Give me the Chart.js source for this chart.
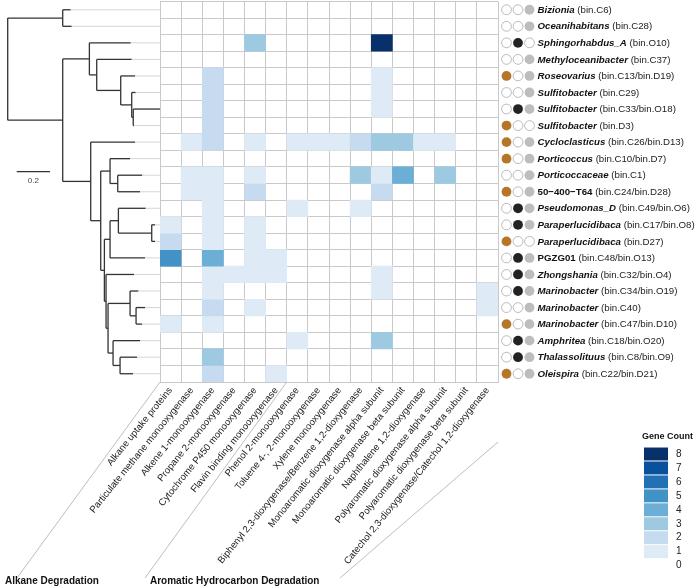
<!DOCTYPE html>
<html><head><meta charset="utf-8">
<script src="https://cdn.jsdelivr.net/npm/chart.js@4.4.1/dist/chart.umd.min.js"></script>
<style>html,body{margin:0;padding:0;background:#fff}#wrap{width:696px;height:588px;position:relative}</style>
</head><body><div id="wrap"><canvas id="c" width="696" height="588"></canvas></div>
<script>
// ---------------- DATA ----------------
const genes = ["Alkane uptake proteins","Particulate methane monooxygenase","Alkene 1-monooxygenase","Propane 2-monooxygenase","Cytochrome P450 monooxygenase","Flavin binding monooxygenase","Phenol 2-monooxygenase","Toluene 4-, 2-monooxygenase","Xylene monooxygenase","Biphenyl 2,3-dioxygenase/Benzene 1,2-dioxygenase","Monoaromatic dioxygenase alpha subunit","Monoaromatic dioxygenase beta subunit","Naphthalene 1,2-dioxygenase","Polyaromatic dioxygenase alpha subunit","Polyaromatic dioxygenase beta subunit","Catechol 2,3-dioxygenase/Catechol 1,2-dioxygenase"];
const geneGroups = ["Alkane Degradation","Aromatic Hydrocarbon Degradation"];
const groupStart = [0, 6];
const taxa = ["Bizionia","Oceanihabitans","Sphingorhabdus_A","Methyloceanibacter","Roseovarius","Sulfitobacter","Sulfitobacter","Sulfitobacter","Cycloclasticus","Porticoccus","Porticoccaceae","50\u2212400\u2212T64","Pseudomonas_D","Paraperlucidibaca","Paraperlucidibaca","PGZG01","Zhongshania","Marinobacter","Marinobacter","Marinobacter","Amphritea","Thalassolituus","Oleispira"];
const bins = ["(bin.C6)","(bin.C28)","(bin.O10)","(bin.C37)","(bin.C13/bin.D19)","(bin.C29)","(bin.C33/bin.O18)","(bin.D3)","(bin.C26/bin.D13)","(bin.C10/bin.D7)","(bin.C1)","(bin.C24/bin.D28)","(bin.C49/bin.O6)","(bin.C17/bin.O8)","(bin.D27)","(bin.C48/bin.O13)","(bin.C32/bin.O4)","(bin.C34/bin.O19)","(bin.C40)","(bin.C47/bin.D10)","(bin.C18/bin.O20)","(bin.C8/bin.O9)","(bin.C22/bin.D21)"];
const italicName = [1,1,1,1,1,1,1,1,1,1,1,0,1,1,1,0,1,1,1,1,1,1,1];
// presence marks: D = brown, O = black, C = grey (lowercase = absent)
const marks = ["doC","doC","dOc","doC","DoC","doC","dOC","Doc","DoC","DoC","doC","DoC","dOC","dOC","Doc","dOC","dOC","dOC","doC","DoC","dOC","dOC","DoC"];
const counts = [
 [0,0,0,0,0,0,0,0,0,0,0,0,0,0,0,0],
 [0,0,0,0,0,0,0,0,0,0,0,0,0,0,0,0],
 [0,0,0,0,3,0,0,0,0,0,8,0,0,0,0,0],
 [0,0,0,0,0,0,0,0,0,0,0,0,0,0,0,0],
 [0,0,2,0,0,0,0,0,0,0,1,0,0,0,0,0],
 [0,0,2,0,0,0,0,0,0,0,1,0,0,0,0,0],
 [0,0,2,0,0,0,0,0,0,0,1,0,0,0,0,0],
 [0,0,2,0,0,0,0,0,0,0,0,0,0,0,0,0],
 [0,1,2,0,1,0,1,1,1,2,3,3,1,1,0,0],
 [0,0,0,0,0,0,0,0,0,0,0,0,0,0,0,0],
 [0,1,1,0,1,0,0,0,0,3,1,4,0,3,0,0],
 [0,1,1,0,2,0,0,0,0,0,2,0,0,0,0,0],
 [0,0,1,0,0,0,1,0,0,1,0,0,0,0,0,0],
 [1,0,1,0,1,0,0,0,0,0,0,0,0,0,0,0],
 [2,0,1,0,1,0,0,0,0,0,0,0,0,0,0,0],
 [5,0,4,0,1,1,0,0,0,0,0,0,0,0,0,0],
 [0,0,1,1,1,1,0,0,0,0,1,0,0,0,0,0],
 [0,0,1,0,0,0,0,0,0,0,1,0,0,0,0,1],
 [0,0,2,0,1,0,0,0,0,0,0,0,0,0,0,1],
 [1,0,1,0,0,0,0,0,0,0,0,0,0,0,0,0],
 [0,0,0,0,0,0,1,0,0,0,3,0,0,0,0,0],
 [0,0,3,0,0,0,0,0,0,0,0,0,0,0,0,0],
 [0,0,2,0,0,1,0,0,0,0,0,0,0,0,0,0]
];
const countTicks = [0,1,2,3,4,5,6,7,8];
const scaleBarValue = 0.2;
// tree: N(depth, ...children), T(depth, row)
function N(d, ...c){ return {d, c}; }
function T(d, t){ return {d, t}; }
const tree = N(0,
  N(0.330, T(0.378,0), T(0.384,1)),
  N(0.330,
    N(0.490, T(0.738,2),
      N(0.534, T(0.744,3),
        N(0.678, T(0.764,4),
          N(0.744, T(0.768,5),
            N(0.753, T(0.914,6), T(0.758,7)))))),
    N(0.498, T(0.764,8),
      N(0.558,
        N(0.614, T(0.734,9), N(0.660, T(0.807,10), T(0.794,11))),
        N(0.580,
          N(0.614, N(0.664, T(0.828,12), N(0.864, T(0.884,13), T(0.884,14))), T(0.824,15)),
          N(0.590, T(0.758,16),
            N(0.602,
              N(0.734, T(0.784,17), N(0.770, T(0.824,18), T(0.806,19))),
              N(0.632, T(0.794,20), N(0.674, T(0.776,21), T(0.752,22))))))))));

// ---------------- STYLE ----------------
const blues = ["#ffffff","#deebf7","#c6dbef","#9ecae1","#6baed6","#4292c6","#2171b5","#08519c","#08306b"];
const FONT = '"Liberation Sans", Arial, sans-serif';
const gridCol = '#c9c9c9';

const datasets = taxa.map((t, r) => ({
  label: t + ' ' + bins[r],
  data: genes.map(() => [r - 0.5, r + 0.5]),
  backgroundColor: counts[r].map(v => v > 0 ? blues[v] : 'rgba(255,255,255,0)'),
  borderWidth: 0,
  grouped: false,
  barPercentage: 1,
  categoryPercentage: 1
}));

const overlay = {
  id: 'overlay',
  afterDraw(chart) {
    const ctx = chart.ctx, ys = chart.scales.y, xs = chart.scales.x, ca = chart.chartArea;
    ctx.save();
    // --- tree ---
    const X0 = 7.7, U = 166.7;
    const X = d => X0 + d * U;
    function lay(n){ if (n.t !== undefined) n.y = ys.getPixelForValue(n.t); else { n.c.forEach(lay); n.y = (n.c[0].y + n.c[n.c.length-1].y) / 2; } }
    lay(tree);
    function draw(n, px) {
      const x = X(n.d);
      ctx.strokeStyle = '#333'; ctx.lineWidth = 1.3;
      if (px !== undefined) { ctx.beginPath(); ctx.moveTo(px, n.y); ctx.lineTo(x, n.y); ctx.stroke(); }
      if (n.c) {
        ctx.beginPath(); ctx.moveTo(x, n.c[0].y); ctx.lineTo(x, n.c[n.c.length-1].y); ctx.stroke();
        n.c.forEach(ch => draw(ch, x));
      } else if (x < ca.left) {
        ctx.strokeStyle = '#d6d6d6'; ctx.lineWidth = 1;
        ctx.beginPath(); ctx.moveTo(x, n.y); ctx.lineTo(ca.left, n.y); ctx.stroke();
      }
    }
    draw(tree);
    // scale bar
    ctx.strokeStyle = '#333'; ctx.lineWidth = 1.3;
    ctx.beginPath(); ctx.moveTo(16.7, 171.7); ctx.lineTo(16.7 + scaleBarValue * U, 171.7); ctx.stroke();
    ctx.fillStyle = '#444'; ctx.font = '8px ' + FONT; ctx.textAlign = 'center'; ctx.textBaseline = 'middle';
    ctx.fillText(String(scaleBarValue), 16.7 + scaleBarValue * U / 2, 181);

    // --- row labels + marks ---
    const cx0 = ca.right + 8.5, step = 11.5, rad = 4.9;
    taxa.forEach((t, r) => {
      const py = ys.getPixelForValue(r);
      [...marks[r]].forEach((m, k) => {
        ctx.beginPath(); ctx.arc(cx0 + k * step, py, rad, 0, Math.PI * 2);
        if (m === 'D') { ctx.fillStyle = '#b5762a'; ctx.fill(); }
        else if (m === 'O') { ctx.fillStyle = '#222'; ctx.fill(); }
        else if (m === 'C') { ctx.fillStyle = '#bdbdbd'; ctx.fill(); }
        else { ctx.fillStyle = '#fff'; ctx.fill(); ctx.strokeStyle = '#aaa'; ctx.lineWidth = 0.8; ctx.stroke(); }
      });
      const tx = ca.right + 39.5;
      ctx.textAlign = 'left'; ctx.textBaseline = 'middle'; ctx.fillStyle = '#111';
      ctx.font = (italicName[r] ? 'italic ' : '') + 'bold 9.7px ' + FONT;
      ctx.fillText(t, tx, py + 0.5);
      const w = ctx.measureText(t + ' ').width;
      ctx.font = '9.7px ' + FONT; ctx.fillStyle = '#222';
      ctx.fillText(bins[r], tx + w, py + 0.5);
    });

    // --- group separators & labels ---
    ctx.strokeStyle = '#bdbdbd'; ctx.lineWidth = 1;
    const bx = i => xs.getPixelForValue(i) - (xs.getPixelForValue(1) - xs.getPixelForValue(0)) / 2;
    const segs = [[bx(groupStart[0]), ca.bottom, 17, 578], [bx(groupStart[1]), ca.bottom, 145, 578], [ca.right, 442, 340, 578]];
    segs.forEach(s => { ctx.beginPath(); ctx.moveTo(s[0], s[1]); ctx.lineTo(s[2], s[3]); ctx.stroke(); });
    ctx.fillStyle = '#111'; ctx.font = 'bold 10px ' + FONT; ctx.textAlign = 'left'; ctx.textBaseline = 'middle';
    ctx.fillText(geneGroups[0], 5, 581);
    ctx.fillText(geneGroups[1], 150, 581);

    // --- colour legend ---
    ctx.font = 'bold 9px ' + FONT; ctx.textAlign = 'left'; ctx.fillStyle = '#111';
    ctx.fillText('Gene Count', 642, 437);
    const lx = 644, lw = 24, top8 = 454, dy = 13.95;
    countTicks.forEach(v => {
      const cy = top8 + (8 - v) * dy;
      ctx.fillStyle = blues[v];
      ctx.fillRect(lx, cy - dy / 2 + 0.5, lw, dy - 1);
      ctx.fillStyle = '#222'; ctx.font = '10px ' + FONT; ctx.textBaseline = 'middle';
      ctx.fillText(String(v), lx + lw + 8, cy);
    });
    ctx.restore();
  }
};

new Chart(document.getElementById('c'), {
  type: 'bar',
  data: { labels: genes, datasets },
  options: {
    responsive: false, animation: false,
    layout: { padding: { left: 160, right: 198, top: 1.5, bottom: 0 } },
    plugins: { legend: { display: false }, tooltip: { enabled: false } },
    scales: {
      x: {
        type: 'category', offset: true, z: 1,
        grid: { offset: true, color: gridCol, lineWidth: 1, drawTicks: false },
        border: { display: true, color: gridCol },
        ticks: { autoSkip: false, minRotation: 51, maxRotation: 51, padding: 3, color: '#222', font: { family: FONT, size: 9.6 } },
        afterFit: s => { s.height = 206; }
      },
      y: {
        type: 'linear', min: -0.5, max: taxa.length - 0.5, reverse: true, z: 1,
        ticks: { display: false, stepSize: 1 },
        grid: { color: gridCol, lineWidth: 1, drawTicks: false },
        border: { display: true, color: gridCol },
        afterFit: s => { s.width = 0; }
      }
    }
  },
  plugins: [overlay]
});
</script></body></html>
